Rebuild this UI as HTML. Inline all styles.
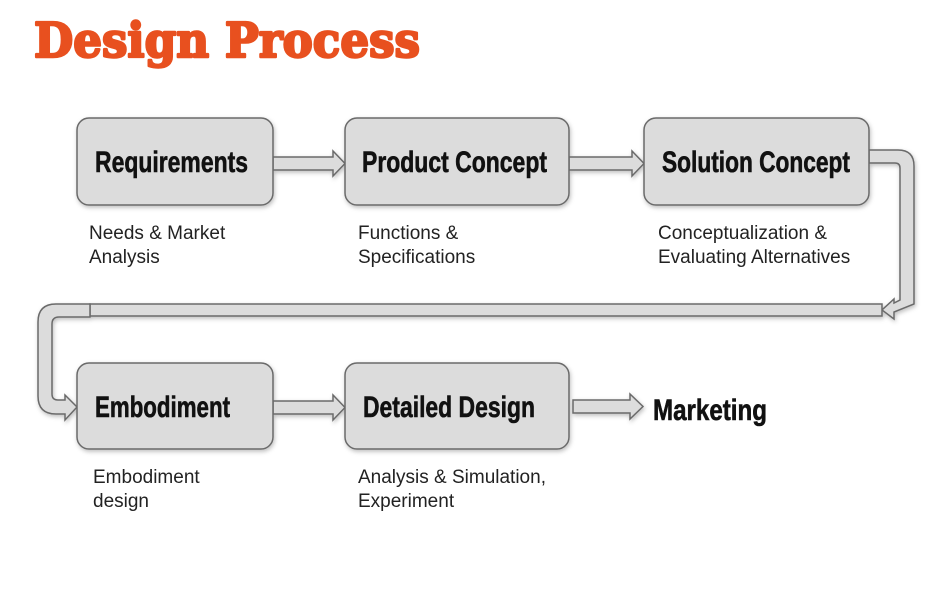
<!DOCTYPE html>
<html><head><meta charset="utf-8"><style>
html,body{margin:0;padding:0;background:#fff;}
svg{display:block;}
</style></head><body>
<svg width="950" height="613" viewBox="0 0 950 613" xmlns="http://www.w3.org/2000/svg">
<defs>
<filter id="sh" x="-10%" y="-10%" width="125%" height="130%"><feDropShadow dx="1" dy="2" stdDeviation="2" flood-color="#000" flood-opacity="0.25"/></filter>
</defs>
<text x="34" y="57" font-family="DejaVu Serif, Liberation Serif, serif" font-weight="bold" font-size="48" fill="#e8501f" stroke="#e8501f" stroke-width="2.5" stroke-linejoin="round" textLength="386" lengthAdjust="spacingAndGlyphs">Design Process</text>

<g fill="#dcdcdc" stroke="#6a6a6a" stroke-width="1.5" filter="url(#sh)">
<polygon points="273,157 333,157 333,151 345,163.5 333,176 333,170 273,170"/>
<polygon points="569,157 632,157 632,151 644,163.5 632,176 632,170 569,170"/>
<polygon points="273,401 333,401 333,395 345,407.5 333,420 333,414 273,414"/>
<polygon points="573,400 630,400 630,394 643,406.5 630,419 630,413 573,413"/>
<path d="M869,150 L898,150 Q914,150 914,166 L914,304 L894,312 L894,319 L882,310 L894,299 L894,303 L900,300 L900,168 Q900,163 895,163 L869,163 Z"/>
<rect x="90" y="304" width="792" height="12"/>
<path d="M90,304 L56,304 Q38,304 38,322 L38,396 Q38,414 56,414 L65,414 L65,420 L77,407 L65,395 L65,400 L58,400 Q52,400 52,394 L52,324 Q52,317 59,317 L90,317 Z"/>
<rect x="77" y="118" width="196" height="87" rx="12"/>
<rect x="345" y="118" width="224" height="87" rx="12"/>
<rect x="644" y="118" width="225" height="87" rx="12"/>
<rect x="77" y="363" width="196" height="86" rx="12"/>
<rect x="345" y="363" width="224" height="86" rx="12"/>
</g>

<g font-family="Liberation Sans Narrow, Liberation Sans, sans-serif" font-weight="bold" font-size="30" fill="#111" stroke="#111" stroke-width="0.6">
<text x="95" y="172" textLength="153" lengthAdjust="spacingAndGlyphs">Requirements</text>
<text x="362" y="172" textLength="185" lengthAdjust="spacingAndGlyphs">Product Concept</text>
<text x="662" y="172" textLength="188" lengthAdjust="spacingAndGlyphs">Solution Concept</text>
<text x="95" y="417" textLength="135" lengthAdjust="spacingAndGlyphs">Embodiment</text>
<text x="363" y="417" textLength="172" lengthAdjust="spacingAndGlyphs">Detailed Design</text>
<text x="653" y="420" textLength="114" lengthAdjust="spacingAndGlyphs">Marketing</text>
</g>

<g font-family="Liberation Sans, sans-serif" font-size="19" fill="#222">
<text x="89" y="239">Needs &amp; Market</text>
<text x="89" y="263">Analysis</text>
<text x="358" y="239">Functions &amp;</text>
<text x="358" y="263">Specifications</text>
<text x="658" y="239">Conceptualization &amp;</text>
<text x="658" y="263">Evaluating Alternatives</text>
<text x="93" y="483">Embodiment</text>
<text x="93" y="507">design</text>
<text x="358" y="483">Analysis &amp; Simulation,</text>
<text x="358" y="507">Experiment</text>
</g>
</svg>
</body></html>
